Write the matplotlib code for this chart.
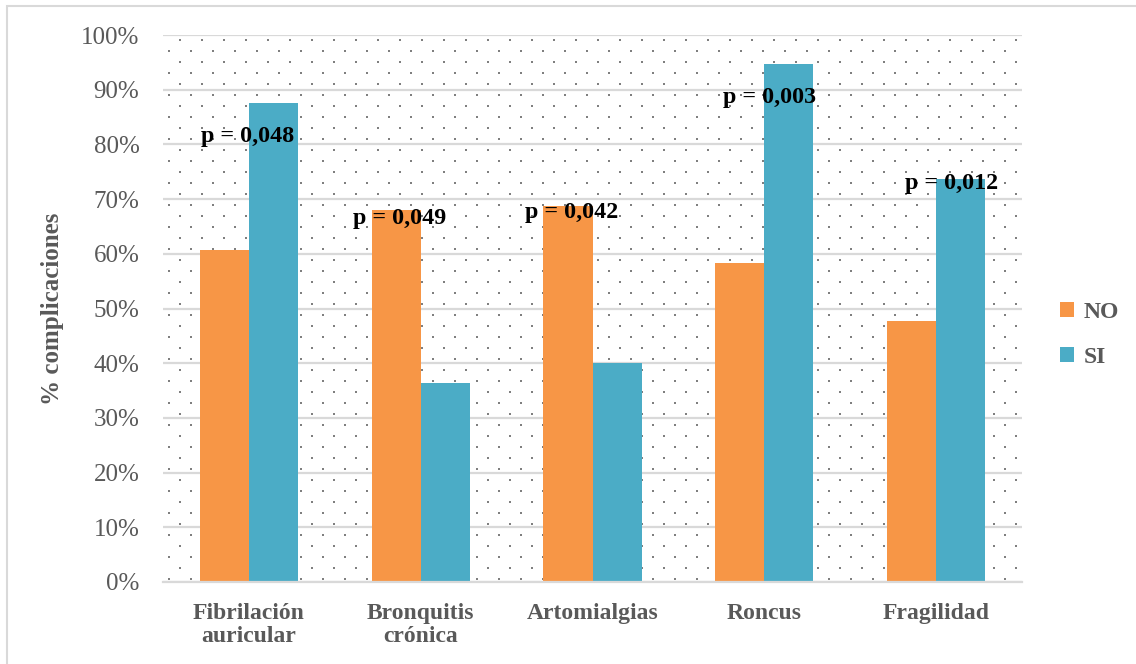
import numpy as np
import matplotlib
matplotlib.use("Agg")
import matplotlib.pyplot as plt
from matplotlib.patches import Rectangle

# % complicaciones by group (NO / SI) for each variable
categories = ["Fibrilación\nauricular", "Bronquitis\ncrónica", "Artomialgias", "Roncus", "Fragilidad"]
no_vals = [60.7, 68.0, 68.7, 58.3, 47.7]
si_vals = [87.6, 36.4, 40.0, 94.7, 73.6]
p_labels = ["p = 0,048", "p = 0,049", "p = 0,042", "p = 0,003", "p = 0,012"]
# where each p-value note sits (category offset, % level)
p_dx = [-0.01, -0.12, -0.12, 0.03, 0.09]
p_y = [81.5, 66.5, 67.6, 88.5, 72.8]

ORANGE = "#F79646"
BLUE = "#4BACC6"
GREY_TXT = "#595959"
GRID = "#D9D9D9"

plt.rcParams["font.family"] = ["Liberation Serif", "DejaVu Serif"]

W, H = 1136, 664
fig = plt.figure(figsize=(W / 100, H / 100), dpi=100)
x0, x1, y0, y1 = 163, 1022, 35, 582
ax = fig.add_axes([x0 / W, 1 - y1 / H, (x1 - x0) / W, (y1 - y0) / H])

# outer chart border
fig.patches.append(Rectangle((7 / W, -0.1), 1.2, 1 - 6 / H + 0.1, transform=fig.transFigure,
                             fill=False, edgecolor=GRID, lw=1.5, zorder=0))

# dotted plot-area fill (staggered lattice, 22 px x 11 px)
pw, ph = x1 - x0, y1 - y0
pts = []
for r, yy in enumerate(np.arange(5, ph + 1, 11)):
    start = 17 if r % 2 == 0 else 6
    for xx in np.arange(start, pw, 22):
        pts.append((xx / pw, 1 - yy / ph))
pts = np.array(pts)
ax.scatter(pts[:, 0], pts[:, 1], s=3.0, marker="s", color="#7F7F7F", linewidths=0,
           transform=ax.transAxes, zorder=0.5, clip_on=True)

x = np.arange(len(categories))
bw = 1 / 3.5
ax.bar(x - bw / 2, no_vals, bw, color=ORANGE, label="NO", zorder=3)
ax.bar(x + bw / 2, si_vals, bw, color=BLUE, label="SI", zorder=3)

for i, t in enumerate(p_labels):
    ax.text(i + p_dx[i], p_y[i], t, ha="center", va="center", fontsize=17.3,
            fontweight="bold", color="black", zorder=5)

ax.set_xlim(-0.5, len(categories) - 0.5)
ax.set_ylim(0, 100)
ax.set_yticks(np.arange(0, 101, 10))
ax.set_yticklabels([f"{v}%" for v in range(0, 101, 10)], fontsize=18, color=GREY_TXT)
ax.set_xticks(x)
ax.set_xticklabels(categories, fontsize=17, fontweight="bold", color=GREY_TXT, linespacing=1.15)
ax.tick_params(axis="both", length=0)
ax.tick_params(axis="y", pad=17)
ax.tick_params(axis="x", pad=15)
ax.grid(axis="y", color=GRID, lw=1.6, zorder=1)
ax.set_axisbelow(True)
for s in ["top", "right", "left"]:
    ax.spines[s].set_visible(False)
ax.spines["bottom"].set_color(GRID)
ax.spines["bottom"].set_linewidth(1.6)
ax.spines["bottom"].set_zorder(4)

ax.set_ylabel("% complicaciones", fontsize=18, fontweight="bold", color=GREY_TXT)
ax.yaxis.set_label_coords(-0.115, 0.5)

leg = fig.legend(loc="center left", bbox_to_anchor=(1039 / W, 1 - 335 / H), frameon=False,
                 handlelength=0.6, handleheight=0.6, handletextpad=0.4, labelspacing=1.0,
                 prop={"size": 17, "weight": "bold"})
for t in leg.get_texts():
    t.set_color(GREY_TXT)

fig.savefig("out.png", dpi=100)
